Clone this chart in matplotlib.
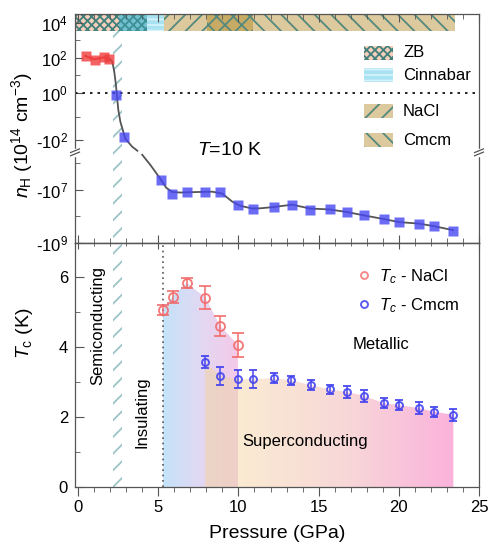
import numpy as np
import matplotlib
matplotlib.use("Agg")
import matplotlib.pyplot as plt
from matplotlib.patches import Rectangle
from matplotlib.lines import Line2D
from matplotlib.colors import LinearSegmentedColormap
from matplotlib.ticker import MultipleLocator, FixedLocator, NullFormatter

plt.rcParams.update({
    "font.family": "Liberation Sans",
    "font.size": 12,
    "mathtext.fontset": "custom",
    "mathtext.rm": "Liberation Sans",
    "mathtext.it": "Liberation Sans:italic",
    "mathtext.bf": "Liberation Sans:bold",
    "axes.linewidth": 0.9,
    "hatch.linewidth": 1.3,
})

# ---------------- data ----------------
# Hall carrier density n_H (1e14 cm^-3), red = hole-like, blue = electron-like
p_pos = [0.52, 1.04, 1.6, 1.91]
n_pos = [130, 77, 110, 88]
p_neg = [2.37, 2.88, 5.19, 5.88, 6.79, 7.89, 8.87, 9.97, 10.88, 12.19, 13.37,
         14.47, 15.68, 16.80, 17.80, 19.08, 20.0, 21.28, 22.2, 23.4]
n_neg = [0.9, -90, -4.5e6, -1.4e7, -1.26e7, -1.23e7, -1.23e7, -3.9e7, -5.2e7,
         -4.6e7, -3.6e7, -5.6e7, -5.2e7, -6.8e7, -8.7e7, -1.3e8, -1.7e8,
         -1.9e8, -2.4e8, -3.4e8]

# guide-to-the-eye curves
red_line_p = [0.45, 1.0, 1.6, 2.0]
red_line_n = [130, 82, 107, 82]
guide_hi_p = [2.0, 2.14, 2.26, 2.36, 2.42, 2.51, 2.64, 2.82, 2.95, 3.38, 3.7]
guide_hi_n = [82, 59, 16, 2.9, 0.92, 0.29, -22, -65, -96, -1e4, -1.4e5]
guide_lo_p = [4.0, 4.5, 5.13, 5.5, 5.88, 6.38, 7.31, 8.37, 9.0, 9.61, 10.1,
              10.86, 11.36, 12.17, 13.35, 14.46, 15.65, 16.78, 17.78, 19.08,
              20.02, 21.26, 22.2, 23.38]
guide_lo_n = [-4.9e5, -1.16e6, -3.9e6, -8.5e6, -1.23e7, -1.28e7, -1.23e7,
              -1.19e7, -1.41e7, -2.8e7, -4.0e7, -5.1e7, -5.0e7, -4.5e7,
              -3.65e7, -5.1e7, -5.5e7, -6.9e7, -9.1e7, -1.27e8, -1.65e8,
              -1.87e8, -2.34e8, -3.3e8]

# structural phases (top bar)
phase_edges = [-0.19, 2.53, 4.32, 5.33, 8.04, 10.93, 23.5]
phase_face = ["#f7cfba", "#72c2d2", "#a9e2f1", "#dcc99e", "#c7aa64", "#dcc99e"]
phase_hatch = ["xxxx", "xxxx", "---", "//", "xx", "\\\\"]
phase_hcol = ["#3f7f7c", "#3f8f96", "#d3f2fa", "#55897e", "#55897e", "#55897e"]
legend_names = ["ZB", "Cinnabar", "NaCl", "Cmcm"]
legend_idx = [0, 2, 3, 5]

# superconducting Tc
p_nacl = [5.27, 5.89, 6.79, 7.93, 8.87, 9.97]
tc_nacl = [5.06, 5.44, 5.83, 5.41, 4.60, 4.06]
err_nacl = [0.14, 0.17, 0.14, 0.33, 0.29, 0.34]
p_cmcm = [7.93, 8.87, 9.97, 10.9, 12.19, 13.3, 14.5, 15.68, 16.8, 17.8, 19.08,
          20.0, 21.28, 22.2, 23.4]
tc_cmcm = [3.56, 3.17, 3.08, 3.08, 3.11, 3.05, 2.91, 2.79, 2.71, 2.61, 2.39,
           2.34, 2.25, 2.15, 2.06]
err_cmcm = [0.17, 0.25, 0.25, 0.25, 0.14, 0.13, 0.14, 0.13, 0.17, 0.17, 0.14,
            0.14, 0.17, 0.14, 0.17]

semi_band = (2.2, 2.75)
insulator_edge = 5.3

SPINE = "#555555"
BREAK = 5.6  # log10 of |n| where the axis is broken


# piecewise axis: log above 1, linear around 0, compressed log, then log again
def fwd(n):
    n = np.asarray(n, dtype=float)
    with np.errstate(all="ignore"):
        a = np.log10(np.abs(n))
        return np.where(n >= 1, 17.5 * a,
               np.where(n >= 0, 24 * (n - 1),
               np.where(n >= -100, -24 + 0.23 * n,
               np.where(a <= BREAK, -47 - 12.6 * (a - 2) / (BREAK - 2),
                        -59.6 - 26.7 * (a - BREAK)))))


def inv(d):
    d = np.asarray(d, dtype=float)
    with np.errstate(all="ignore"):
        return np.where(d >= 0, 10 ** (d / 17.5),
               np.where(d >= -24, 1 + d / 24,
               np.where(d >= -47, (d + 24) / 0.23,
               np.where(d >= -59.6, -10 ** (2 + (-47 - d) * (BREAK - 2) / 12.6),
                        -10 ** (BREAK + (-59.6 - d) / 26.7)))))


def gradient_under(ax, x, y, colors, alpha=1.0, z=0.5):
    x = np.asarray(x)
    y = np.asarray(y)
    poly = ax.fill_between(x, 0, y, facecolor="none", edgecolor="none")
    clip = poly.get_paths()[0]
    cmap = LinearSegmentedColormap.from_list("g", colors)
    img = ax.imshow(np.linspace(0, 1, 256)[None, :], cmap=cmap, aspect="auto",
                    extent=[x.min(), x.max(), 0, y.max()], origin="lower",
                    alpha=alpha, zorder=z, interpolation="bilinear")
    img.set_clip_path(clip, ax.transData)


fig = plt.figure(figsize=(4.89, 5.52), dpi=100)
ax1 = fig.add_axes([75 / 489, 1 - 243 / 552, 404 / 489, 229 / 552])
ax2 = fig.add_axes([75 / 489, 1 - 487 / 552, 404 / 489, 244 / 552])

xlim = (phase_edges[0], 25)
ylo, yhi = -1e9, 10 ** 4.51

# ---------------- top panel ----------------
ax1.set_yscale("function", functions=(fwd, inv))
ax1.set_xlim(*xlim)
ax1.set_ylim(ylo, yhi)
bar_bottom = float((fwd(10 ** 3.54) - fwd(ylo)) / (fwd(yhi) - fwd(ylo)))

for i in range(len(phase_face)):
    ax1.axvspan(phase_edges[i], phase_edges[i + 1], ymin=bar_bottom, ymax=1,
                facecolor=phase_face[i], edgecolor=phase_hcol[i],
                hatch=phase_hatch[i], lw=0, zorder=1)

ax1.axvspan(*semi_band, ymin=0, ymax=bar_bottom, facecolor="none",
            edgecolor="#9cc4c7", hatch="//", lw=0, zorder=1)
ax2.axvspan(*semi_band, facecolor="none", edgecolor="#9cc4c7", hatch="//",
            lw=0, zorder=1)

ax1.axhline(1, color="black", ls=(0, (1.5, 3)), lw=1.2, zorder=2)

ax1.plot(red_line_p, red_line_n, color="#e03838", lw=1.3, zorder=3)
ax1.plot(guide_hi_p, guide_hi_n, color="#555555", lw=1.3, zorder=3)
ax1.plot(guide_lo_p, guide_lo_n, color="#555555", lw=1.3, zorder=3)
ax1.plot(p_pos, n_pos, "s", color="#f03c3c", alpha=0.8, ms=6.5, mec="none",
         zorder=4)
ax1.plot(p_neg, n_neg, "s", color="#4646f2", alpha=0.8, ms=6.5, mec="none",
         zorder=4)

ax1.yaxis.set_major_locator(FixedLocator([-1e9, -1e7, -1e2, 1, 1e2, 1e4]))
ax1.yaxis.set_minor_locator(FixedLocator([-1e8, -1e6, 0, 10, 1e3]))
ax1.set_yticklabels([r"-10$^{9}$", r"-10$^{7}$", r"-10$^{2}$", r"10$^{0}$",
                     r"10$^{2}$", r"10$^{4}$"])
ax1.yaxis.set_minor_formatter(NullFormatter())
ax1.xaxis.set_major_locator(MultipleLocator(5))
ax1.xaxis.set_minor_locator(MultipleLocator(1))
ax1.tick_params(axis="x", which="both", direction="in", top=True,
                bottom=True, labelbottom=False, colors=SPINE)
ax1.tick_params(axis="y", which="both", direction="in", right=False,
                colors=SPINE, labelcolor="black", labelsize=12, pad=5)
ax1.tick_params(which="major", length=6)
ax1.tick_params(which="minor", length=3.5)
for s in ax1.spines.values():
    s.set_color(SPINE)
ax1.set_ylabel(r"$n_{\rm H}$ (10$^{14}$ cm$^{-3}$)", fontsize=14)
ax1.yaxis.set_label_coords(-0.1, 0.47)

ax1.text(0.302, 0.406, r"$T$=10 K", transform=ax1.transAxes, fontsize=14,
         ha="left", va="center")

# phase legend drawn as swatches
leg_y = [0.80, 0.703, 0.546, 0.419]
for name, idx, y0 in zip(legend_names, legend_idx, leg_y):
    ax1.add_patch(Rectangle((0.715, y0), 0.072, 0.061, transform=ax1.transAxes,
                            facecolor=phase_face[idx], edgecolor=phase_hcol[idx],
                            hatch=phase_hatch[idx], lw=0, zorder=3))
    ax1.text(0.812, y0 + 0.03, name, transform=ax1.transAxes, ha="left",
             va="center", fontsize=12)

# axis break marks
yb = float((fwd(-10 ** BREAK) - fwd(ylo)) / (fwd(yhi) - fwd(ylo)))
for xs in (0, 1):
    ax1.plot([xs, xs], [yb - 0.01, yb + 0.01], color="white", lw=2.5,
             transform=ax1.transAxes, clip_on=False, zorder=6)
    for off in (-0.007, 0.007):
        ax1.plot([xs - 0.011, xs + 0.011], [yb + off - 0.008, yb + off + 0.008],
                 color=SPINE, lw=0.9, transform=ax1.transAxes, clip_on=False,
                 zorder=7)

# ---------------- bottom panel ----------------
gradient_under(ax2, p_nacl, tc_nacl, ["#c4e3f9", "#e2d8f3", "#f5c9e7"], z=0.5)
gradient_under(ax2, p_cmcm[:3], tc_cmcm[:3], ["#ebd5c5", "#f0cfc8"], z=0.6)
gradient_under(ax2, p_cmcm[2:], tc_cmcm[2:], ["#fbebd2", "#f7d8d8", "#fbb2dc"],
               z=0.6)

ax2.axvline(insulator_edge, color="#555555", ls=(0, (1, 2.2)), lw=1.2,
            zorder=2)

ax2.errorbar(p_nacl, tc_nacl, yerr=err_nacl, fmt="o", ms=6.5, mfc="none",
             mec="#f26a6a", mew=1.3, ecolor="#f26a6a", elinewidth=1.2,
             capsize=4, capthick=1.2, alpha=0.9, zorder=4)
ax2.errorbar(p_cmcm, tc_cmcm, yerr=err_cmcm, fmt="o", ms=5, mfc="none",
             mec="#4545f0", mew=1.4, ecolor="#4545f0", elinewidth=1.2,
             capsize=3, capthick=1.2, alpha=0.9, zorder=4)

ax2.text(1.26, 4.6, "Semiconducting", rotation=90, ha="center", va="center",
         fontsize=12)
ax2.text(4.0, 2.14, "Insulating", rotation=90, ha="center", va="center",
         fontsize=12)
ax2.text(17.15, 4.06, "Metallic", ha="left", va="center", fontsize=12)
ax2.text(10.24, 1.31, "Superconducting", ha="left", va="center", fontsize=12)

handles = [Line2D([], [], marker="o", ls="none", mfc="none", mec="#f58a8a",
                  ms=5, mew=1.4),
           Line2D([], [], marker="o", ls="none", mfc="none", mec="#5c5cf2",
                  ms=5, mew=1.4)]
ax2.legend(handles, [r"$T_c$ - NaCl", r"$T_c$ - Cmcm"], loc="upper left",
           bbox_to_anchor=(0.658, 0.962), frameon=False, handlelength=1.0,
           handletextpad=0.4, labelspacing=0.6, borderpad=0.4, fontsize=12)

ax2.set_xlim(*xlim)
ax2.set_ylim(0, 6.97)
ax2.xaxis.set_major_locator(MultipleLocator(5))
ax2.xaxis.set_minor_locator(MultipleLocator(1))
ax2.yaxis.set_major_locator(MultipleLocator(2))
ax2.yaxis.set_minor_locator(MultipleLocator(1))
ax2.tick_params(axis="x", which="both", direction="out", top=False,
                colors=SPINE, labelcolor="black", labelsize=12, pad=3)
ax2.tick_params(axis="y", which="both", direction="in", right=False,
                colors=SPINE, labelcolor="black", labelsize=12, pad=5)
ax2.tick_params(which="major", length=6.5)
ax2.tick_params(which="minor", length=3.6)
for s in ax2.spines.values():
    s.set_color(SPINE)

top = ax2.secondary_xaxis("top")
top.xaxis.set_major_locator(MultipleLocator(5))
top.xaxis.set_minor_locator(MultipleLocator(1))
top.tick_params(axis="x", which="both", direction="in", labeltop=False,
                colors=SPINE)
top.tick_params(which="major", length=4)
top.tick_params(which="minor", length=2.5)
top.spines["top"].set_color(SPINE)

ax2.set_xlabel("Pressure (GPa)", fontsize=14)
ax2.xaxis.set_label_coords(0.5, -0.155)
ax2.set_ylabel(r"$T_{\rm c}$ (K)", fontsize=14)
ax2.yaxis.set_label_coords(-0.1, 0.63)

fig.savefig("out.png", dpi=100)
